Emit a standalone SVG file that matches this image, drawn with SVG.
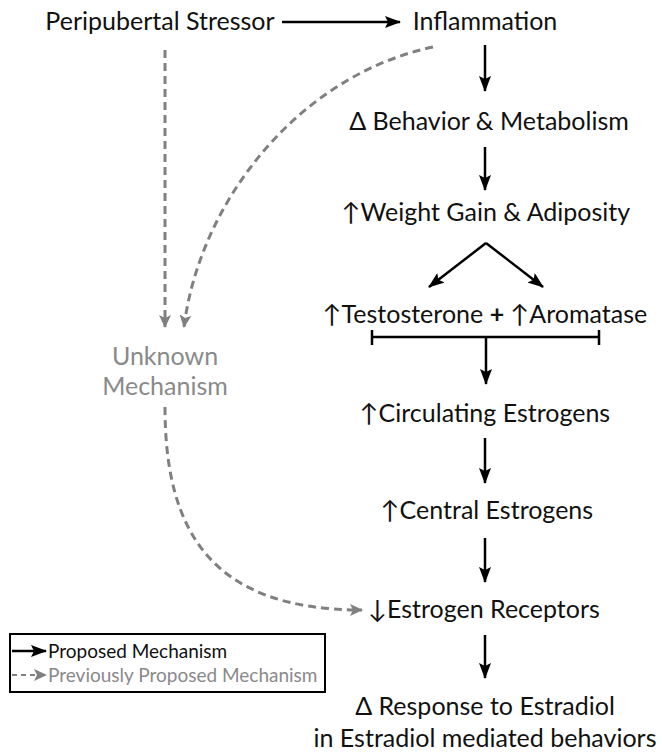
<svg xmlns="http://www.w3.org/2000/svg" width="662" height="755" viewBox="0 0 662 755">
<defs>
<style>
text{font-family:Lato,"Open Sans","Liberation Sans",sans-serif;font-size:25px;fill:#111;text-anchor:middle}
.gray{fill:#8a8a8a}
.leg{font-size:19px;text-anchor:start}
.solid{stroke:#000;stroke-width:2.5;fill:none}
.dash{stroke:#808080;stroke-width:3;fill:none;stroke-dasharray:8 5}
</style>
<marker id="ah" markerUnits="userSpaceOnUse" viewBox="0 0 16 12" refX="15" refY="6" markerWidth="16" markerHeight="12" orient="auto">
<path d="M0,0 L16,6 L0,12 L3,6 z" fill="#000"/>
</marker>
<marker id="ahg" markerUnits="userSpaceOnUse" viewBox="0 0 13 12" refX="12" refY="6" markerWidth="13" markerHeight="12" orient="auto">
<path d="M0,0 L13,6 L0,12 L3,6 z" fill="#808080"/>
</marker>
</defs>
<rect width="662" height="755" fill="#fff"/>

<g id="connectors">
<path class="solid" d="M282,22 H400" marker-end="url(#ah)"/>
<path class="solid" d="M485,45 V91" marker-end="url(#ah)"/>
<path class="solid" d="M485,147 V190" marker-end="url(#ah)"/>
<path class="solid" d="M486,243 L429,287" marker-end="url(#ah)"/>
<path class="solid" d="M486,243 L543,287" marker-end="url(#ah)"/>
<path class="solid" d="M372,337 H599 M372,330 V345 M599,330 V345"/>
<path class="solid" d="M486,337 V384" marker-end="url(#ah)"/>
<path class="solid" d="M485,438 V483" marker-end="url(#ah)"/>
<path class="solid" d="M485,538 V582" marker-end="url(#ah)"/>
<path class="solid" d="M485,635 V678" marker-end="url(#ah)"/>
<path class="dash" d="M165,50 V327" marker-end="url(#ahg)"/>
<path class="dash" d="M433,47 C300,75 200,200 184,327" marker-end="url(#ahg)"/>
<path class="dash" d="M165,407 C165,530 210,610 362,610" marker-end="url(#ahg)"/>
</g>

<g id="n-stressor"><text x="160" y="30">Peripubertal Stressor</text></g>
<g id="n-inflammation"><text x="485" y="30">Inflammation</text></g>
<g id="n-behavior"><text x="489" y="130">Δ Behavior &amp; Metabolism</text></g>
<g id="n-weight"><text x="486" y="221">↑Weight Gain &amp; Adiposity</text></g>
<g id="n-testosterone"><text x="485" y="323">↑Testosterone <tspan font-weight="bold">+</tspan> ↑Aromatase</text></g>
<g id="n-circulating"><text x="485" y="422">↑Circulating Estrogens</text></g>
<g id="n-central"><text x="487" y="519">↑Central Estrogens</text></g>
<g id="n-receptors"><text x="484" y="618">↓Estrogen Receptors</text></g>
<g id="n-response"><text x="485" y="715">Δ Response to Estradiol</text><text x="485" y="747">in Estradiol mediated behaviors</text></g>
<g id="n-unknown"><text class="gray" x="165" y="365">Unknown</text><text class="gray" x="165" y="395">Mechanism</text></g>

<g id="legend">
<rect x="10" y="634" width="315" height="58" fill="#fff" stroke="#000" stroke-width="2"/>
<path class="solid" d="M12,651 H46" stroke-width="2" marker-end="url(#ah)"/>
<path d="M12,675 H46" stroke="#808080" stroke-width="2" stroke-dasharray="5 4" fill="none" marker-end="url(#ahg)"/>
<text class="leg" x="48" y="658">Proposed Mechanism</text>
<text class="leg gray" x="48" y="682">Previously Proposed Mechanism</text>
</g>
</svg>
